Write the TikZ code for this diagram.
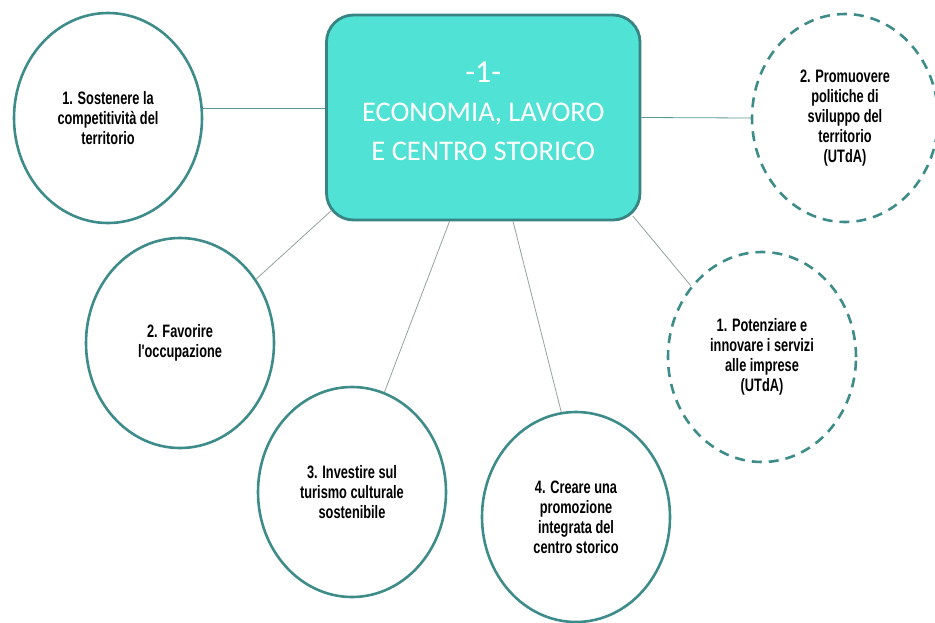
\documentclass[tikz,border=0pt]{standalone}
\usepackage{fontspec}
\setmainfont{Liberation Sans}
\newfontfamily\bubblefont{Liberation Sans}[FakeStretch=0.71]
\newfontfamily\hubfont{Carlito}
\usetikzlibrary{shapes.geometric}
\definecolor{rimteal}{RGB}{62,140,138}
\definecolor{hubfill}{RGB}{80,226,212}
\definecolor{hubrim}{RGB}{56,132,132}
\definecolor{spokegray}{RGB}{150,160,160}
\definecolor{linkteal}{RGB}{92,152,150}

\begin{document}
\begin{tikzpicture}[x=1pt,y=-1pt,
  goal/.style={ellipse, draw=rimteal, line width=2.6pt, minimum width=188pt, minimum height=210pt, inner sep=0pt, align=center, text=black, font=\bubblefont\bfseries\fontsize{18}{20}\selectfont},
  utda/.style={goal, dash pattern=on 10pt off 7pt},
  spoke/.style={draw=spokegray, line width=0.8pt}]
\useasboundingbox (0,0) rectangle (935,622);
\node[rectangle, rounded corners=27pt, fill=hubfill, draw=hubrim, line width=2.8pt, minimum width=313.5pt, minimum height=205pt] (hub) at (483.25,117.5) {};
\node[align=center, text=white, font=\hubfont\fontsize{28.5}{39}\selectfont] (hubtitle) at (483.25,111) {{\fontsize{32}{39}\selectfont -1-}\\ECONOMIA, LAVORO\\E CENTRO STORICO};
\node[goal] (e1) at (108,118) {1. Sostenere la\\competitività del\\territorio};
\node[goal] (e2) at (180,343) {2. Favorire\\l'occupazione};
\node[goal] (e3) at (352,492) {3. Investire sul\\turismo culturale\\sostenibile};
\node[goal] (e4) at (576,517) {4. Creare una\\promozione\\integrata del\\centro storico};
\node[utda] (d1) at (762,357) {1. Potenziare e\\innovare i servizi\\alle imprese\\(UTdA)};
\node[utda, minimum width=186pt, minimum height=208pt] (d2) at (845,118) {2. Promuovere\\politiche di\\sviluppo del\\territorio\\(UTdA)};
\draw[spoke, draw=linkteal, line width=1pt] (e1.6) -- (e1.6 -| hub.west);
\draw[spoke, draw=linkteal] (hub.east) -- (d2.west);
\draw[spoke, shorten >=-9pt] (e2.40) -- (hub.212);
\draw[spoke] (e3.72) -- (hub.252);
\draw[spoke] (e4.98) -- (hub.286);
\draw[spoke, shorten >=-7pt] (d1.135) -- (hub.326);
\end{tikzpicture}
\end{document}
